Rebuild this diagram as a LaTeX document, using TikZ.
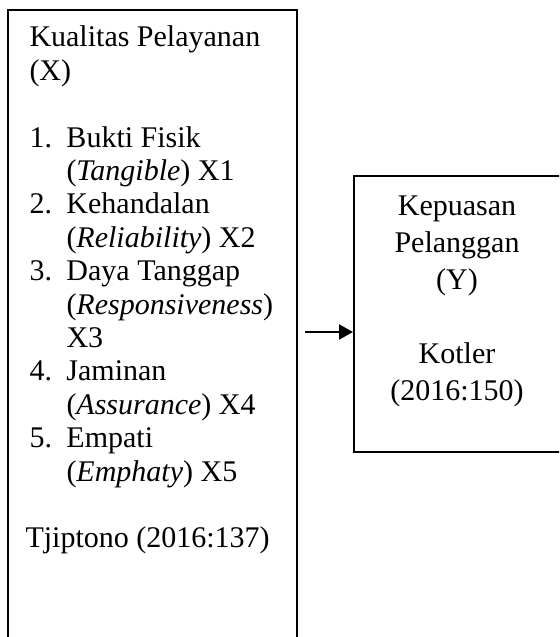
\documentclass[tikz,border=0pt]{standalone}
\usepackage{fontspec}
\setmainfont{Liberation Serif}
\usetikzlibrary{arrows.meta, positioning}

\begin{document}
\begin{tikzpicture}[
    x=0.4pt, y=0.4pt,
    frame/.style={draw, line width=0.8pt, inner sep=0pt},
    txt/.style={inner sep=0pt, font=\fontsize{12}{13.36}\selectfont},
    arr/.style={-{Triangle[length=5.6pt, width=6pt]}, line width=0.8pt}]
  \path[use as bounding box, clip] (0,0) rectangle (559,637);
  % left box runs past the lower edge
  \node[frame, anchor=north west, minimum width=115.6pt, minimum height=270pt] (qual) at (7,628) {};
  \node[txt, text width=104pt, align=flush left, anchor=base west] (qualtext) at (29,590) {Kualitas Pelayanan\\
    (X)\\[13.36pt]
    \makebox[14.8pt][l]{1.}Bukti Fisik\\
    \hspace*{14.8pt}(\textit{Tangible}) X1\\
    \makebox[14.8pt][l]{2.}Kehandalan\\
    \hspace*{14.8pt}(\textit{Reliability}) X2\\
    \makebox[14.8pt][l]{3.}Daya Tanggap\\
    \hspace*{14.8pt}(\textit{Responsiveness})\\
    \hspace*{14.8pt}X3\\
    \makebox[14.8pt][l]{4.}Jaminan\\
    \hspace*{14.8pt}(\textit{Assurance}) X4\\
    \makebox[14.8pt][l]{5.}Empati\\
    \hspace*{14.8pt}(\textit{Emphaty}) X5\\[13.36pt]
    \hspace*{-1.6pt}Tjiptono (2016:137)};
  % right box, its right side meets the page edge
  \node[frame, minimum width=82.8pt, minimum height=110.4pt] (sat) at (457.5,323) {};
  \node[txt, text width=70pt, align=flush center, font=\fontsize{12}{14.8}\selectfont, anchor=base] (sattext) at (457,421)
    {Kepuasan\\Pelanggan\\(Y)\\[14.8pt]Kotler\\(2016:150)};
  \coordinate (tip) at ([yshift=-7.2pt]sat.west);
  \draw[arr, shorten <=2.8pt] (qual.east |- tip) -- (tip);
\end{tikzpicture}
\end{document}
